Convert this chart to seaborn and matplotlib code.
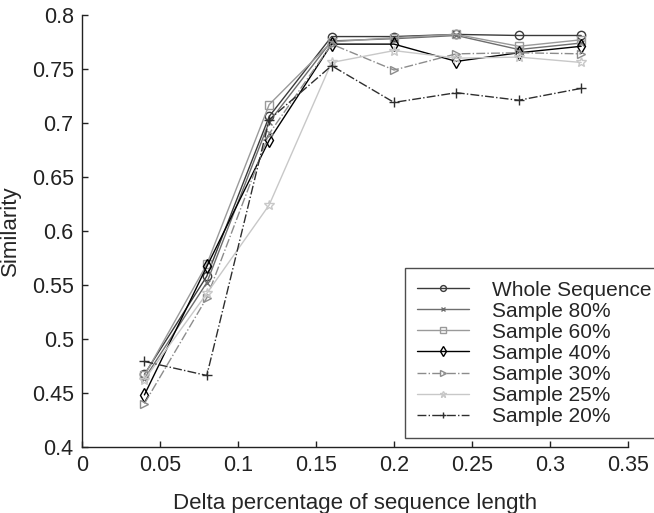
import numpy as np
import pandas as pd
import matplotlib
matplotlib.use('Agg')
import matplotlib.pyplot as plt
import seaborn as sns

delta = [0.04, 0.08, 0.12, 0.16, 0.2, 0.24, 0.28, 0.32]
whole = [0.467, 0.558, 0.706, 0.780, 0.780, 0.782, 0.781, 0.781]
s80 = [0.463, 0.552, 0.701, 0.776, 0.778, 0.781, 0.768, 0.774]
s60 = [0.466, 0.569, 0.717, 0.775, 0.779, 0.782, 0.771, 0.777]
s40 = [0.448, 0.567, 0.684, 0.773, 0.773, 0.757, 0.765, 0.771]
s30 = [0.440, 0.538, 0.690, 0.773, 0.749, 0.764, 0.765, 0.764]
s25 = [0.462, 0.542, 0.624, 0.756, 0.767, 0.760, 0.761, 0.756]
s20 = [0.479, 0.466, 0.703, 0.753, 0.719, 0.728, 0.721, 0.732]

labels = ['Whole Sequence', 'Sample 80%', 'Sample 60%', 'Sample 40%',
          'Sample 30%', 'Sample 25%', 'Sample 20%']
series = [whole, s80, s60, s40, s30, s25, s20]

# colour, marker, linestyle, marker size
styles = [
    ('#3a3a3a', 'o', '-', 6),
    ('#6e6e6e', 'x', '-', 4.5),
    ('#9a9a9a', 's', '-', 5.5),
    ('#000000', 'd', '-', 7),
    ('#8c8c8c', '>', '-.', 6),
    ('#c8c8c8', '*', '-', 7),
    ('#2e2e2e', '+', '-.', 6.5),
]

sns.set_style('ticks')
plt.rcParams['font.family'] = ['Liberation Sans', 'DejaVu Sans']

fig = plt.figure(figsize=(6.54, 5.13), dpi=100)
ax = fig.add_axes([0.1254, 0.1292, 0.8348, 0.8416])

for lab, vals, (c, m, ls, ms) in zip(labels, series, styles):
    sns.lineplot(x=delta, y=vals, ax=ax, color=c, marker=m, linestyle=ls,
                 linewidth=1.0, markersize=ms, markerfacecolor='none',
                 markeredgecolor=c, markeredgewidth=1.0, label=lab)

ax.set_xlim(0, 0.35)
ax.set_ylim(0.4, 0.8)
ax.set_xticks(np.arange(0, 0.351, 0.05))
ax.set_xticklabels(['0', '0.05', '0.1', '0.15', '0.2', '0.25', '0.3', '0.35'])
ax.set_yticks(np.arange(0.4, 0.801, 0.05))
ax.set_yticklabels(['0.4', '0.45', '0.5', '0.55', '0.6', '0.65', '0.7', '0.75', '0.8'])
ax.tick_params(direction='in', length=4, width=1, labelsize=15.5,
               colors='#222222', pad=6)
for side in ['top', 'right']:
    ax.spines[side].set_visible(False)
for side in ['left', 'bottom']:
    ax.spines[side].set_color('#222222')
    ax.spines[side].set_linewidth(1.0)

ax.set_xlabel('Delta percentage of sequence length', fontsize=16, labelpad=12)
ax.set_ylabel('Similarity', fontsize=16, labelpad=8)

leg = ax.legend(loc='upper left', bbox_to_anchor=(405 / 654, 1 - 268 / 513),
                bbox_transform=fig.transFigure, fontsize=15, frameon=True,
                fancybox=False, edgecolor='#222222', handlelength=2.45,
                handletextpad=1.15, labelspacing=0.1, borderpad=0.6,
                borderaxespad=0, markerscale=0.7)
leg.get_frame().set_linewidth(1.0)
leg.set_clip_on(False)

fig.savefig('out.png', dpi=100)
